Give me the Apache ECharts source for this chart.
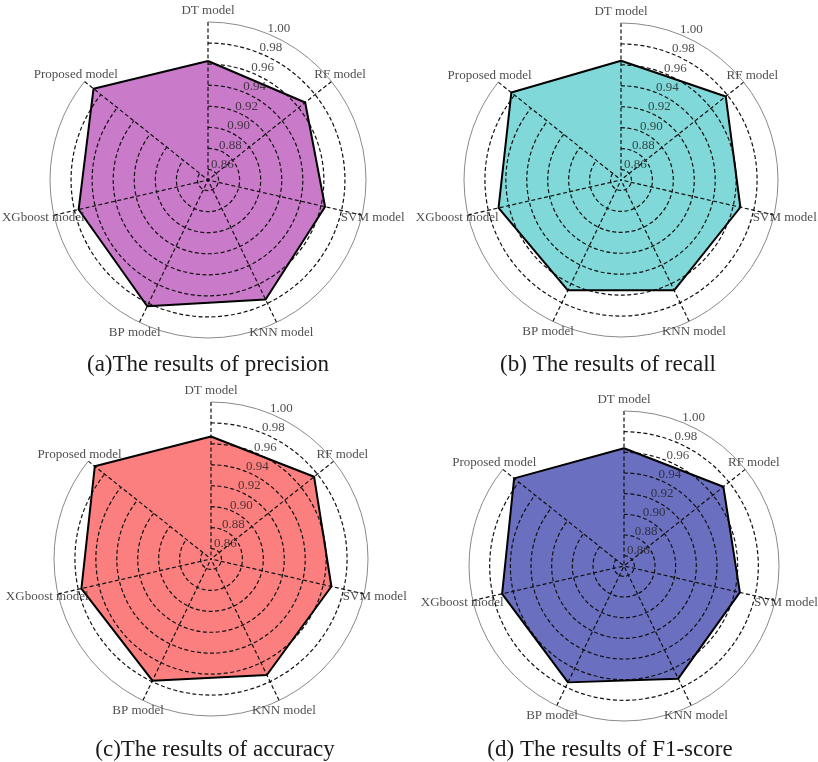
<!DOCTYPE html>
<html>
<head>
<meta charset="utf-8">
<script src="https://cdn.jsdelivr.net/npm/echarts@6/dist/echarts.min.js"></script>
<style>
html,body{margin:0;padding:0;background:#fff;}
#chart{width:818px;height:762px;}
</style>
</head>
<body>
<div id="chart"></div>
<script>
// ---- data ----
const categories = ['DT model', 'RF model', 'SVM model', 'KNN model', 'BP model', 'XGboost model', 'Proposed model'];
const precision = [0.963, 0.968, 0.964, 0.976, 0.983, 0.976, 0.989];
const recall    = [0.964, 0.978, 0.967, 0.967, 0.967, 0.970, 0.984];
const accuracy  = [0.967, 0.976, 0.968, 0.973, 0.979, 0.977, 0.992];
const f1score   = [0.964, 0.973, 0.965, 0.971, 0.975, 0.971, 0.986];
const radialTicks = ['0.86', '0.88', '0.90', '0.92', '0.94', '0.96', '0.98', '1.00'];
const captions = ['(a)The results of precision', '(b) The results of recall', '(c)The results of accuracy', '(d) The results of F1-score'];
const rMin = 0.85, rMax = 1.00;
const tickLabelAngle = 22.5; // degrees clockwise from north (matplotlib default)

// ---- layout / style ----
const panels = [
  {cx: 208, cy: 180, R: 158, color: '#C97AC9', data: precision, capX: 208, capY: 365},
  {cx: 621, cy: 180, R: 157, color: '#80D8D8', data: recall,    capX: 608, capY: 365},
  {cx: 211, cy: 559, R: 157, color: '#FB7F7F', data: accuracy,  capX: 215, capY: 750},
  {cx: 624, cy: 566, R: 155, color: '#6B6FC0', data: f1score,   capX: 610, capY: 750}
];
const FONT = '"Liberation Serif", "DejaVu Serif", serif';
const DASH = [4, 2.5];
const TXT = '#222';

// ring colors: one per tick (0.85 ... 1.00 step 0.01); dashed black only for labelled ticks except outer 1.00
const ringColors = [];
for (let k = 0; k <= Math.round((rMax - rMin) * 100); k++) {
  const s = ((85 + k) / 100).toFixed(2);
  ringColors.push(radialTicks.includes(s) && s !== '1.00' ? '#111' : 'rgba(0,0,0,0)');
}
// radar is counter-clockwise: reorder so DT at top, then going clockwise
const order = [0, 6, 5, 4, 3, 2, 1];

const polar = [], angleAxis = [], radiusAxis = [], radar = [], series = [], graphic = [];
panels.forEach((p, i) => {
  // main polar (grid)
  polar.push({center: [p.cx, p.cy], radius: p.R});
  angleAxis.push({
    polarIndex: 2 * i, type: 'category', data: categories, boundaryGap: false,
    startAngle: 90, clockwise: true, z: 3,
    axisLine: {show: true, lineStyle: {color: '#8a8a8a', width: 1}},
    axisTick: {show: false}, axisLabel: {show: false},
    splitLine: {show: true, lineStyle: {color: '#111', width: 1.2, type: DASH}}
  });
  radiusAxis.push({
    polarIndex: 2 * i, type: 'value', min: rMin, max: rMax, interval: 0.01, z: 3,
    axisLine: {show: false}, axisTick: {show: false}, axisLabel: {show: false},
    splitLine: {show: true, lineStyle: {color: ringColors, width: 1.2, type: DASH}}
  });
  // second polar (value angle axis) used to place the radial tick labels
  polar.push({center: [p.cx, p.cy], radius: p.R});
  angleAxis.push({
    polarIndex: 2 * i + 1, type: 'value', min: 0, max: 360, startAngle: 90, clockwise: true,
    axisLine: {show: false}, axisTick: {show: false}, axisLabel: {show: false}, splitLine: {show: false}
  });
  radiusAxis.push({
    polarIndex: 2 * i + 1, type: 'value', min: rMin, max: rMax, interval: 0.01,
    axisLine: {show: false}, axisTick: {show: false}, splitLine: {show: false}, axisLabel: {show: false}
  });
  series.push({
    type: 'scatter', coordinateSystem: 'polar', polarIndex: 2 * i + 1, z: 7, silent: true,
    symbolSize: 1, itemStyle: {color: 'rgba(0,0,0,0)'},
    data: radialTicks.map(t => ({value: [parseFloat(t), tickLabelAngle], name: t})),
    label: {show: true, position: 'inside', align: 'left', verticalAlign: 'bottom', offset: [-1, 1],
            formatter: '{b}', fontFamily: FONT, fontSize: 13, color: TXT}
  });
  // radar for the filled polygon
  radar.push({
    center: [p.cx, p.cy], radius: p.R, startAngle: 90, shape: 'circle',
    indicator: order.map(k => ({name: categories[k], min: rMin, max: rMax})),
    axisName: {show: false}, axisLine: {show: false}, splitLine: {show: false},
    splitArea: {show: false}, axisTick: {show: false}, axisLabel: {show: false}
  });
  const vals = order.map(k => p.data[k]);
  series.push({
    type: 'radar', radarIndex: i, z: 1, symbol: 'none', silent: true,
    lineStyle: {width: 0, opacity: 0}, areaStyle: {color: p.color, opacity: 1},
    data: [{value: vals}]
  });
  series.push({
    type: 'radar', radarIndex: i, z: 5, symbol: 'none', silent: true,
    lineStyle: {color: '#000', width: 2}, data: [{value: vals}]
  });
  // category labels, centred just outside the outer circle
  series.push({
    type: 'scatter', coordinateSystem: 'polar', polarIndex: 2 * i, z: 8, silent: true,
    symbolSize: 1, itemStyle: {color: 'rgba(0,0,0,0)'},
    data: categories.map((c, k) => {
      const a = (90 - k * 360 / categories.length) * Math.PI / 180;
      return {value: [rMax, k], name: c, label: {offset: [11 * Math.cos(a), -11 * Math.sin(a)]}};
    }),
    label: {show: true, position: 'inside', formatter: '{b}', fontFamily: FONT, fontSize: 13, color: TXT}
  });
  graphic.push({
    type: 'text', x: p.capX, y: p.capY,
    style: {text: captions[i], fill: '#1a1a1a', font: '23px ' + FONT, textAlign: 'center', textVerticalAlign: 'middle'}
  });
});

const chart = echarts.init(document.getElementById('chart'), null, {renderer: 'canvas'});
chart.setOption({
  backgroundColor: '#fff', animation: false,
  polar, angleAxis, radiusAxis, radar, series, graphic
});
</script>
</body>
</html>
